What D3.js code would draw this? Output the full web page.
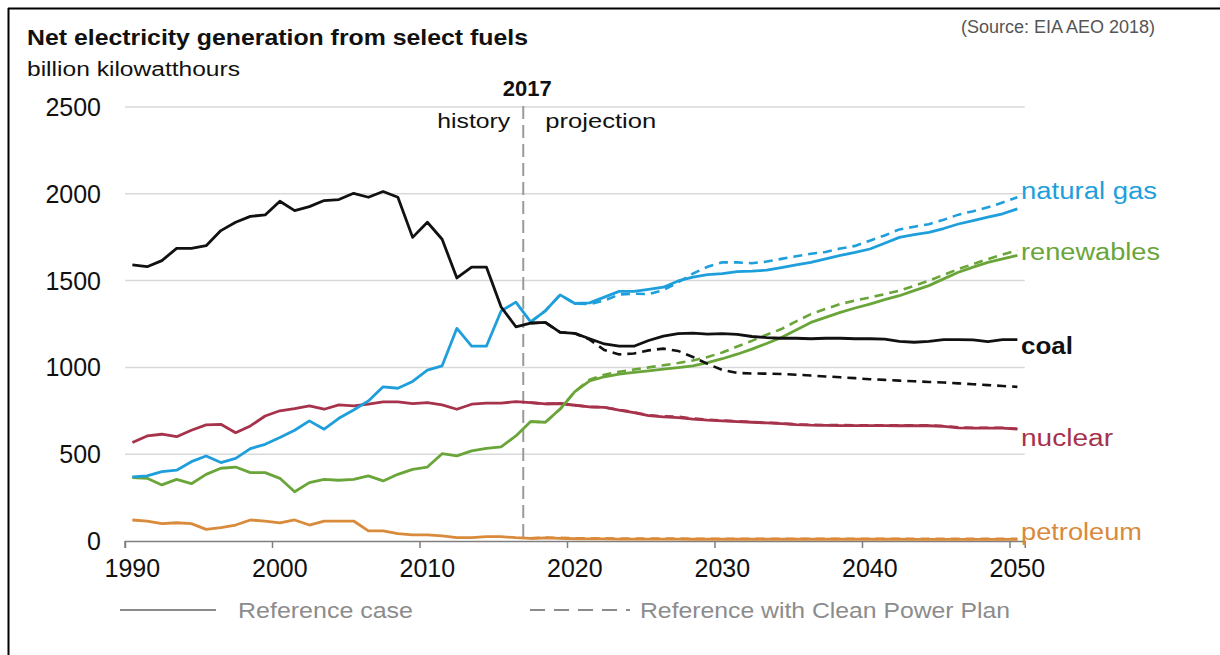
<!DOCTYPE html>
<html><head><meta charset="utf-8">
<script src="https://cdn.jsdelivr.net/npm/d3@7"></script>
<style>
html,body{margin:0;padding:0;background:#fff;}
svg{display:block;font-family:"Liberation Sans",Arial,sans-serif;}
</style></head>
<body>
<svg id="chart" width="1220" height="655"></svg>
<script>
// ---------- data ----------
const years = d3.range(1990, 2051);
const historyYears = d3.range(1990, 2018);     // 1990..2017
const projYears = d3.range(2018, 2051);        // 2018..2050
const xTickYears = [1990, 2000, 2010, 2020, 2030, 2040, 2050];
const yTicks = [0, 500, 1000, 1500, 2000, 2500];

const coalHist = [1590,1580,1615,1686,1686,1701,1788,1836,1870,1878,1957,1903,1926,1961,1967,2003,1980,2013,1980,1749,1836,1738,1515,1578,1578,1348,1234,1255];
const coalRef  = [1259,1202,1196,1165,1135,1122,1122,1155,1180,1195,1198,1192,1194,1190,1178,1172,1168,1168,1165,1168,1168,1165,1165,1163,1150,1145,1150,1160,1160,1158,1148,1160,1160];
const coalCpp  = [1259,1202,1196,1160,1100,1075,1080,1098,1108,1095,1060,1020,985,968,965,964,962,958,953,948,943,938,932,928,924,920,916,913,908,903,898,893,888];

const gasHist = [369,375,400,408,457,490,452,476,532,557,596,638,692,644,707,755,807,888,880,919,984,1009,1225,1122,1122,1325,1376,1262];
const gasRef  = [1326,1418,1368,1372,1405,1438,1438,1450,1462,1498,1520,1535,1540,1552,1555,1560,1575,1590,1605,1625,1645,1662,1682,1715,1749,1765,1778,1800,1826,1845,1865,1885,1913];
const gasCpp  = [1326,1418,1368,1365,1385,1420,1425,1422,1445,1490,1540,1580,1605,1605,1600,1610,1625,1640,1655,1665,1685,1700,1730,1760,1795,1810,1825,1850,1880,1900,1922,1950,1980];

const renHist = [365,361,323,355,330,384,419,426,394,394,361,284,336,355,350,355,375,346,384,413,426,503,490,519,534,542,605,688];
const renRef  = [684,760,861,922,946,961,971,980,990,999,1009,1028,1050,1076,1105,1138,1172,1215,1259,1288,1317,1342,1365,1390,1413,1442,1471,1510,1548,1578,1605,1625,1645];
const renCpp  = [684,760,861,930,958,975,988,1000,1012,1025,1040,1060,1086,1120,1153,1188,1221,1265,1307,1337,1365,1385,1403,1422,1442,1470,1499,1533,1567,1595,1624,1650,1675];

const nucHist = [567,605,615,601,638,669,672,624,663,720,750,763,778,759,784,778,788,801,801,791,797,784,759,788,794,794,803,797];
const nucRef  = [790,792,782,773,770,754,740,722,715,711,702,696,692,688,684,680,676,670,667,666,665,665,665,665,664,664,664,660,652,650,650,650,645];
const nucCpp  = [790,792,782,773,770,756,742,725,718,716,706,699,694,690,686,682,678,672,669,668,668,667,667,667,666,666,666,662,655,652,652,652,647];

const petHist = [121,115,100,105,100,67,77,92,121,115,105,121,92,115,115,115,58,58,42,35,35,29,19,19,25,25,19,15];
const petRef  = [18,15,13,12,12,11,11,11,11,11,10,10,10,10,10,10,10,10,10,10,10,10,10,10,10,9,9,9,9,9,9,9,9];
const petCpp  = [20,18,16,15,15,14,14,14,14,14,13,13,13,13,13,13,13,13,13,13,13,13,13,13,13,12,12,12,12,12,12,12,12];

const seriesNames = ["natural gas","renewables","coal","nuclear","petroleum"];
const seriesColors = ["#1e9fdc","#6aa53a","#111111","#a6324b","#d98a3a"];
const titleText = "Net electricity generation from select fuels";
const unitText = "billion kilowatthours";
const sourceText = "(Source: EIA AEO 2018)";
const legendLabels = ["Reference case","Reference with Clean Power Plan"];

// ---------- build ----------
const series = [
  {hist:gasHist, ref:gasRef, cpp:gasCpp, lbl:{dy:-18, w:136, bold:false}},
  {hist:renHist, ref:renRef, cpp:renCpp, lbl:{dy:-3, w:139, bold:false}},
  {hist:coalHist,ref:coalRef,cpp:coalCpp,lbl:{dy:6, w:52, bold:true}},
  {hist:nucHist, ref:nucRef, cpp:nucCpp, lbl:{dy:9, w:92, bold:false}},
  {hist:petHist, ref:petRef, cpp:petCpp, lbl:{dy:-7, w:121, bold:false}}
];
series.forEach((s,i)=>{ s.color = seriesColors[i]; s.name = seriesNames[i]; });

const svg = d3.select("#chart");
const x = d3.scaleBand().domain(years).range([125, 1024.75]).padding(0);
const xc = yr => x(yr) + x.bandwidth()/2;
const y = d3.scaleLinear().domain([0, 2500]).range([541, 107]);

// frame lines
svg.append("line").attr("x1",8).attr("x2",1220).attr("y1",8.5).attr("y2",8.5).attr("stroke","#000").attr("stroke-width",2);
svg.append("line").attr("x1",8.5).attr("x2",8.5).attr("y1",8).attr("y2",655).attr("stroke","#000").attr("stroke-width",2);

// title
svg.append("text").attr("x",27).attr("y",45).attr("font-size",22).attr("font-weight","bold")
  .attr("fill","#111").attr("textLength",501).attr("lengthAdjust","spacingAndGlyphs").text(titleText);
svg.append("text").attr("x",27).attr("y",76).attr("font-size",20)
  .attr("fill","#111").attr("textLength",213).attr("lengthAdjust","spacingAndGlyphs").text(unitText);
svg.append("text").attr("x",1155).attr("y",33).attr("font-size",18).attr("text-anchor","end")
  .attr("fill","#555").text(sourceText);

// gridlines
svg.append("g").selectAll("line").data(yTicks.filter(d=>d>0)).join("line")
  .attr("x1",125).attr("x2",1024.75).attr("y1",d=>y(d)).attr("y2",d=>y(d))
  .attr("stroke","#d9d9d9").attr("stroke-width",1.5);

// y labels
svg.append("g").selectAll("text").data(yTicks).join("text")
  .attr("x",101).attr("y",d=>y(d)).attr("dy","0.36em").attr("text-anchor","end")
  .attr("font-size",25).attr("fill","#111").text(d=>d);

// x axis
const xAxis = d3.axisBottom(x).tickValues(xTickYears).tickSize(7).tickFormat(d=>d);
const gx = svg.append("g").attr("transform","translate(0,541)").call(xAxis);
gx.select(".domain").attr("stroke","#7f7f7f").attr("stroke-width",1.5);
gx.selectAll(".tick line").attr("stroke","#7f7f7f").attr("stroke-width",1.5)
  .attr("transform",`translate(${-x.bandwidth()/2},0)`);
gx.selectAll(".tick text").attr("font-size",25).attr("fill","#111").attr("y",36).attr("dy",null)
  .attr("font-family","Liberation Sans, Arial, sans-serif");

// 2017 divider
const divX = x(2017);
svg.append("line").attr("x1",divX).attr("x2",divX).attr("y1",106).attr("y2",540)
  .attr("stroke","#9a9a9a").attr("stroke-width",2).attr("stroke-dasharray","13,6");
svg.append("text").attr("x",divX+4).attr("y",96).attr("text-anchor","middle").attr("font-size",22)
  .attr("font-weight","bold").attr("fill","#111").text("2017");
svg.append("text").attr("x",divX-13).attr("y",128).attr("text-anchor","end").attr("font-size",21)
  .attr("fill","#111").attr("textLength",73).attr("lengthAdjust","spacingAndGlyphs").text("history");
svg.append("text").attr("x",divX+22).attr("y",128).attr("text-anchor","start").attr("font-size",21)
  .attr("fill","#111").attr("textLength",111).attr("lengthAdjust","spacingAndGlyphs").text("projection");

// lines
const line = d3.line().x(d=>xc(d[0])).y(d=>y(d[1])).curve(d3.curveLinear);
const gLines = svg.append("g");
// draw order: petroleum, nuclear, renewables, gas, coal
[4,3,1,0,2].forEach(i=>{
  const s = series[i];
  const refPts = historyYears.map((yr,k)=>[yr,s.hist[k]]).concat(projYears.map((yr,k)=>[yr,s.ref[k]]));
  const cppPts = [[2017, s.hist[s.hist.length-1]]].concat(projYears.map((yr,k)=>[yr,s.cpp[k]]));
  gLines.append("path").datum(cppPts).attr("d",line).attr("fill","none")
    .attr("stroke",s.color).attr("stroke-width",2.6).attr("stroke-dasharray","9,6");
  gLines.append("path").datum(refPts).attr("d",line).attr("fill","none")
    .attr("stroke",s.color).attr("stroke-width",2.8).attr("stroke-linejoin","round");
});

// series labels
series.forEach(s=>{
  const last = s.ref[s.ref.length-1];
  svg.append("text").attr("x",1021).attr("y",y(last)+s.lbl.dy).attr("dy","0.35em")
    .attr("font-size",23).attr("font-weight",s.lbl.bold?"bold":"normal")
    .attr("fill",s.color).attr("textLength",s.lbl.w).attr("lengthAdjust","spacingAndGlyphs").text(s.name);
});

// legend
const lg = svg.append("g");
lg.append("line").attr("x1",120).attr("x2",216).attr("y1",610).attr("y2",610).attr("stroke","#8c8c8c").attr("stroke-width",2);
lg.append("text").attr("x",238).attr("y",610).attr("dy","0.35em").attr("font-size",22).attr("fill","#8c8c8c")
  .attr("textLength",175).attr("lengthAdjust","spacingAndGlyphs").text(legendLabels[0]);
lg.append("line").attr("x1",530).attr("x2",630).attr("y1",610).attr("y2",610).attr("stroke","#8c8c8c").attr("stroke-width",2)
  .attr("stroke-dasharray","15,9");
lg.append("text").attr("x",640).attr("y",610).attr("dy","0.35em").attr("font-size",22).attr("fill","#8c8c8c")
  .attr("textLength",370).attr("lengthAdjust","spacingAndGlyphs").text(legendLabels[1]);
</script>
</body></html>
